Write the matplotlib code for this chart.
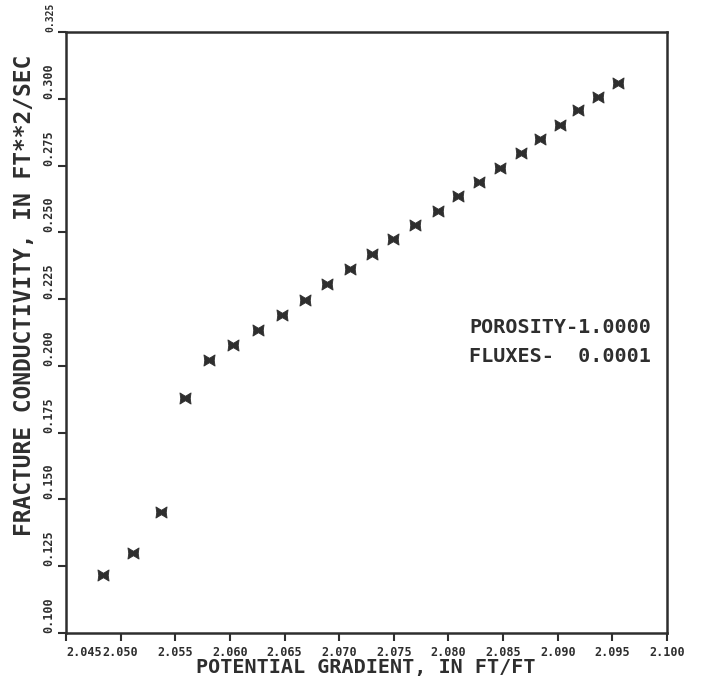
import matplotlib
matplotlib.use("Agg")
import matplotlib.pyplot as plt
from matplotlib.path import Path

# data
gradient = [2.0484, 2.0511, 2.0537, 2.0559, 2.0581, 2.0603, 2.0626, 2.0648,
            2.0669, 2.0689, 2.0710, 2.0730, 2.0749, 2.0769, 2.0790, 2.0809,
            2.0828, 2.0847, 2.0866, 2.0884, 2.0902, 2.0919, 2.0937, 2.0955]
conductivity = [0.1217, 0.1300, 0.1453, 0.1880, 0.2022, 0.2078, 0.2134, 0.2191,
                0.2247, 0.2307, 0.2363, 0.2419, 0.2475, 0.2528, 0.2580, 0.2636,
                0.2688, 0.2741, 0.2797, 0.2850, 0.2902, 0.2958, 0.3007, 0.3059]
xticks = [2.045, 2.050, 2.055, 2.060, 2.065, 2.070, 2.075, 2.080, 2.085, 2.090, 2.095, 2.100]
yticks = [0.100, 0.125, 0.150, 0.175, 0.200, 0.225, 0.250, 0.275, 0.300, 0.325]
notes = ["POROSITY-1.0000", "FLUXES-  0.0001"]

ink = "#2e2e2e"
font = "DejaVu Sans Mono"
W, H = 707, 687

# plotter symbol: block with notches, deeper at top and bottom
bow = Path([(-1, 1), (0, 0.4), (1, 1), (0.85, 0), (1, -1), (0, -0.4),
            (-1, -1), (-0.85, 0), (-1, 1)],
           [Path.MOVETO] + [Path.LINETO] * 7 + [Path.CLOSEPOLY])

fig = plt.figure(figsize=(W / 100, H / 100), dpi=100)
ax = fig.add_axes([66 / W, 1 - 633 / H, 601 / W, 601 / H])

ax.plot(gradient, conductivity, linestyle="none", marker=bow, markersize=8,
        color=ink, markeredgewidth=0.6)

ax.set_xlim(2.045, 2.100)
ax.set_ylim(0.100, 0.325)
for s in ax.spines.values():
    s.set_linewidth(1.8)
    s.set_color(ink)

ax.set_xticks(xticks)
ax.set_yticks(yticks)
ax.set_xticklabels([f"{v:.3f}" for v in xticks], fontfamily=font,
                   fontweight="bold", fontsize=8.5, color=ink)
ax.set_yticklabels([f"{v:.3f}" for v in yticks], fontfamily=font,
                   fontweight="bold", fontsize=8.5, color=ink,
                   rotation=90, va="bottom")
ax.get_xticklabels()[0].set_horizontalalignment("left")
ax.get_yticklabels()[-1].set_fontsize(7)
ax.tick_params(direction="out", length=6, width=1.5, color=ink)
ax.tick_params(axis="y", pad=2)

fig.text(366 / W, 1 - 668 / H, "POTENTIAL GRADIENT, IN FT/FT", ha="center",
         va="center", fontfamily=font, fontweight="bold", fontsize=14.5,
         color=ink)
fig.text(25 / W, 1 - 295 / H, "FRACTURE CONDUCTIVITY, IN FT**2/SEC",
         rotation=90, ha="center", va="center", fontfamily=font,
         fontweight="bold", fontsize=16.5, color=ink)

for i, line in enumerate(notes):
    fig.text(469 / W, 1 - (333 + 29 * i) / H, line, ha="left", va="baseline",
             fontfamily=font, fontweight="bold", fontsize=14.5, color=ink)

fig.savefig("out.png", dpi=100)
